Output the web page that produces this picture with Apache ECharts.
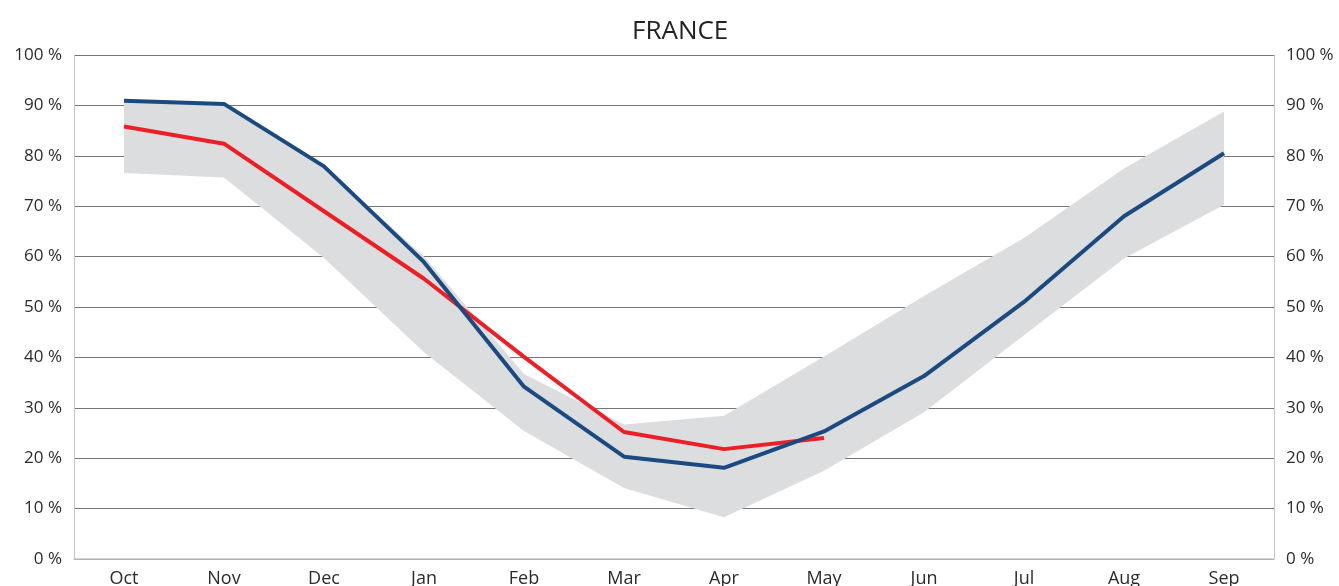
<!DOCTYPE html>
<html lang="fr">
<head>
    <meta charset="UTF-8">
    <title>France</title>
    <script src="https://cdn.jsdelivr.net/npm/echarts@6/dist/echarts.min.js"></script>
</head>
<body style="margin: 0; background-color: white;">
<div id="chart" style="width: 1339px; height: 586px;"></div>

<script>
    // mois (octobre -> septembre)
    const months = ['Oct', 'Nov', 'Dec', 'Jan', 'Feb', 'Mar', 'Apr', 'May', 'Jun', 'Jul', 'Aug', 'Sep'];
    // année en cours (bleu)
    const currentYear = [90.9, 90.3, 77.9, 58.9, 34.2, 20.3, 18.1, 25.3, 36.3, 51.0, 68.0, 80.5];
    // année précédente (rouge), jusqu'à mai
    const lastYear = [85.8, 82.4, 69.0, 55.6, 40.1, 25.2, 21.8, 24.0];
    // plage min / max (zone grise)
    const rangeMax = [90.9, 90.3, 77.9, 60.0, 36.7, 26.7, 28.4, 40.2, 52.2, 63.7, 77.5, 88.8];
    const rangeMin = [76.6, 75.7, 59.7, 41.0, 25.4, 14.1, 8.3, 17.5, 29.1, 44.4, 59.6, 70.3];
    const yTicks = { min: 0, max: 100, interval: 10 };

    const rangeSpan = rangeMax.map((v, i) => +(v - rangeMin[i]).toFixed(1));

    const font = '"Open Sans", "Noto Sans", sans-serif';
    const labelStyle = { color: '#2b2b2b', fontSize: 17, fontFamily: font };

    const myChart = echarts.init(document.getElementById('chart'));

    const yAxisBase = {
        type: 'value',
        min: yTicks.min,
        max: yTicks.max,
        interval: yTicks.interval,
        axisLine: { show: true, lineStyle: { color: '#c4c4c4', width: 1 } },
        axisTick: { show: false },
        axisLabel: Object.assign({ formatter: '{value} %', margin: 12 }, labelStyle)
    };

    const option = {
        animation: false,
        title: {
            text: 'FRANCE',
            left: 627,
            top: 14,
            textStyle: { color: '#222', fontSize: 26, fontWeight: 'normal', fontFamily: font }
        },
        grid: { left: 74, right: 65, top: 55, bottom: 27, outerBoundsMode: 'none', containLabel: false },
        xAxis: {
            type: 'category',
            data: months,
            boundaryGap: true,
            axisLine: { lineStyle: { color: '#c8c8c8', width: 1.5 } },
            axisTick: { show: false },
            axisLabel: Object.assign({}, labelStyle, { fontSize: 18, margin: 11 })
        },
        yAxis: [
            Object.assign({}, yAxisBase, {
                position: 'left',
                splitLine: { show: true, lineStyle: { color: '#767676', width: 1 } }
            }),
            Object.assign({}, yAxisBase, {
                position: 'right',
                splitLine: { show: false }
            })
        ],
        series: [
            {
                name: 'min',
                type: 'line',
                stack: 'range',
                data: rangeMin,
                symbol: 'none',
                lineStyle: { opacity: 0 },
                areaStyle: { opacity: 0 },
                z: 1
            },
            {
                name: 'plage',
                type: 'line',
                stack: 'range',
                data: rangeSpan,
                symbol: 'none',
                lineStyle: { opacity: 0 },
                areaStyle: { color: '#dcdddf', opacity: 1 },
                z: 1
            },
            {
                name: 'année précédente',
                type: 'line',
                data: lastYear,
                symbol: 'none',
                lineStyle: { color: '#ec1f26', width: 4 },
                z: 3
            },
            {
                name: 'année en cours',
                type: 'line',
                data: currentYear,
                symbol: 'none',
                lineStyle: { color: '#1b4a80', width: 4 },
                z: 4
            }
        ]
    };

    myChart.setOption(option);
</script>
</body>
</html>
